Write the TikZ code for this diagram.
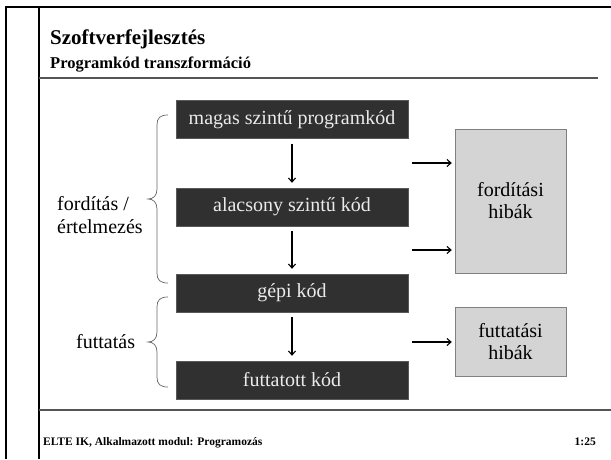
\documentclass[tikz,border=0pt]{standalone}
\usepackage{fontspec}
\setmainfont{Liberation Serif}
\usetikzlibrary{arrows.meta}
\definecolor{boxdark}{HTML}{303030}
\definecolor{boxlight}{HTML}{D4D4D4}
\definecolor{rulegrey}{HTML}{555555}
\begin{document}
\begin{tikzpicture}[x=1pt,y=-1pt,
  codebox/.style={draw=gray!70!black,fill=boxdark,text=white!92!black,minimum width=232pt,minimum height=38pt,inner sep=0pt,font=\fontsize{20}{24}\selectfont},
  errbox/.style={draw=gray,fill=boxlight,minimum width=111pt,inner sep=0pt,align=center,font=\fontsize{20}{22}\selectfont},
  flow/.style={-{Straight Barb[length=4pt,width=7pt]},line width=1.1pt,shorten <=5pt,shorten >=5pt},
  side/.style={-{Straight Barb[length=4pt,width=7pt]},line width=1.1pt},
  curly/.style={draw=gray!80!black,line width=0.7pt},
  lbl/.style={font=\fontsize{20}{23}\selectfont,align=left,inner sep=0pt}
]
\useasboundingbox (0,0) rectangle (611,459);
% frame
\draw[line width=2pt] (6,459) -- (6,7) -- (611,7);
\draw[line width=2pt] (39,7) -- (39,459);
\draw[rulegrey,line width=1.5pt] (39,78) -- (598,78);
\draw[rulegrey,line width=1.5pt] (39,410) -- (611,410);
% titles
\node[anchor=base west,inner sep=0pt,font=\fontsize{21}{24}\selectfont\bfseries] (title) at (50,44) {Szoftverfejlesztés};
\node[anchor=base west,inner sep=0pt,font=\fontsize{16.5}{19}\selectfont\bfseries] (subtitle) at (50,68) {Programkód transzformáció};
\node[anchor=base west,inner sep=0pt,font=\fontsize{11.5}{13}\selectfont\bfseries] (footer) at (43,445) {ELTE IK, Alkalmazott modul: Programozás};
\node[anchor=base east,inner sep=0pt,font=\fontsize{11.5}{13}\selectfont\bfseries] (page) at (596,445) {1:25};
% code boxes
\node[codebox] (b1) at (292,119.5) {magas szintű programkód};
\node[codebox] (b2) at (292,207) {alacsony szintű kód};
\node[codebox] (b3) at (292,293) {gépi kód};
\node[codebox] (b4) at (292,380) {futtatott kód};
\draw[flow] (b1) -- (b2);
\draw[flow] (b2) -- (b3);
\draw[flow] (b3) -- (b4);
% error boxes
\node[errbox,minimum height=144pt] (fh) at (510.5,201) {fordítási\\hibák};
\node[errbox,minimum height=69pt] (rh) at (510.5,341.5) {futtatási\\hibák};
\coordinate (s1) at (412,163);
\coordinate (s2) at (412,250);
\coordinate (s3) at (412,342);
\draw[side] (s1) -- ([xshift=-3pt]fh.west |- s1);
\draw[side] (s2) -- ([xshift=-3pt]fh.west |- s2);
\draw[side] (s3) -- ([xshift=-3pt]rh.west |- s3);
% braces
\draw[curly] (168,115) .. controls (160,115) and (157,118) .. (157,125) -- (157,189)
  .. controls (157,196) and (153,199) .. (148,199)
  .. controls (153,199) and (157,202) .. (157,209) -- (157,273)
  .. controls (157,280) and (160,283) .. (168,283);
\draw[curly] (168,297) .. controls (160,297) and (157,300) .. (157,307) -- (157,332)
  .. controls (157,339) and (153,342) .. (148,342)
  .. controls (153,342) and (157,345) .. (157,352) -- (157,377)
  .. controls (157,384) and (160,387) .. (168,387);
% labels
\node[lbl,anchor=west] (lcomp) at (57,215) {fordítás /\\értelmezés};
\node[lbl,anchor=west] (lrun) at (76,342) {futtatás};
\end{tikzpicture}
\end{document}
